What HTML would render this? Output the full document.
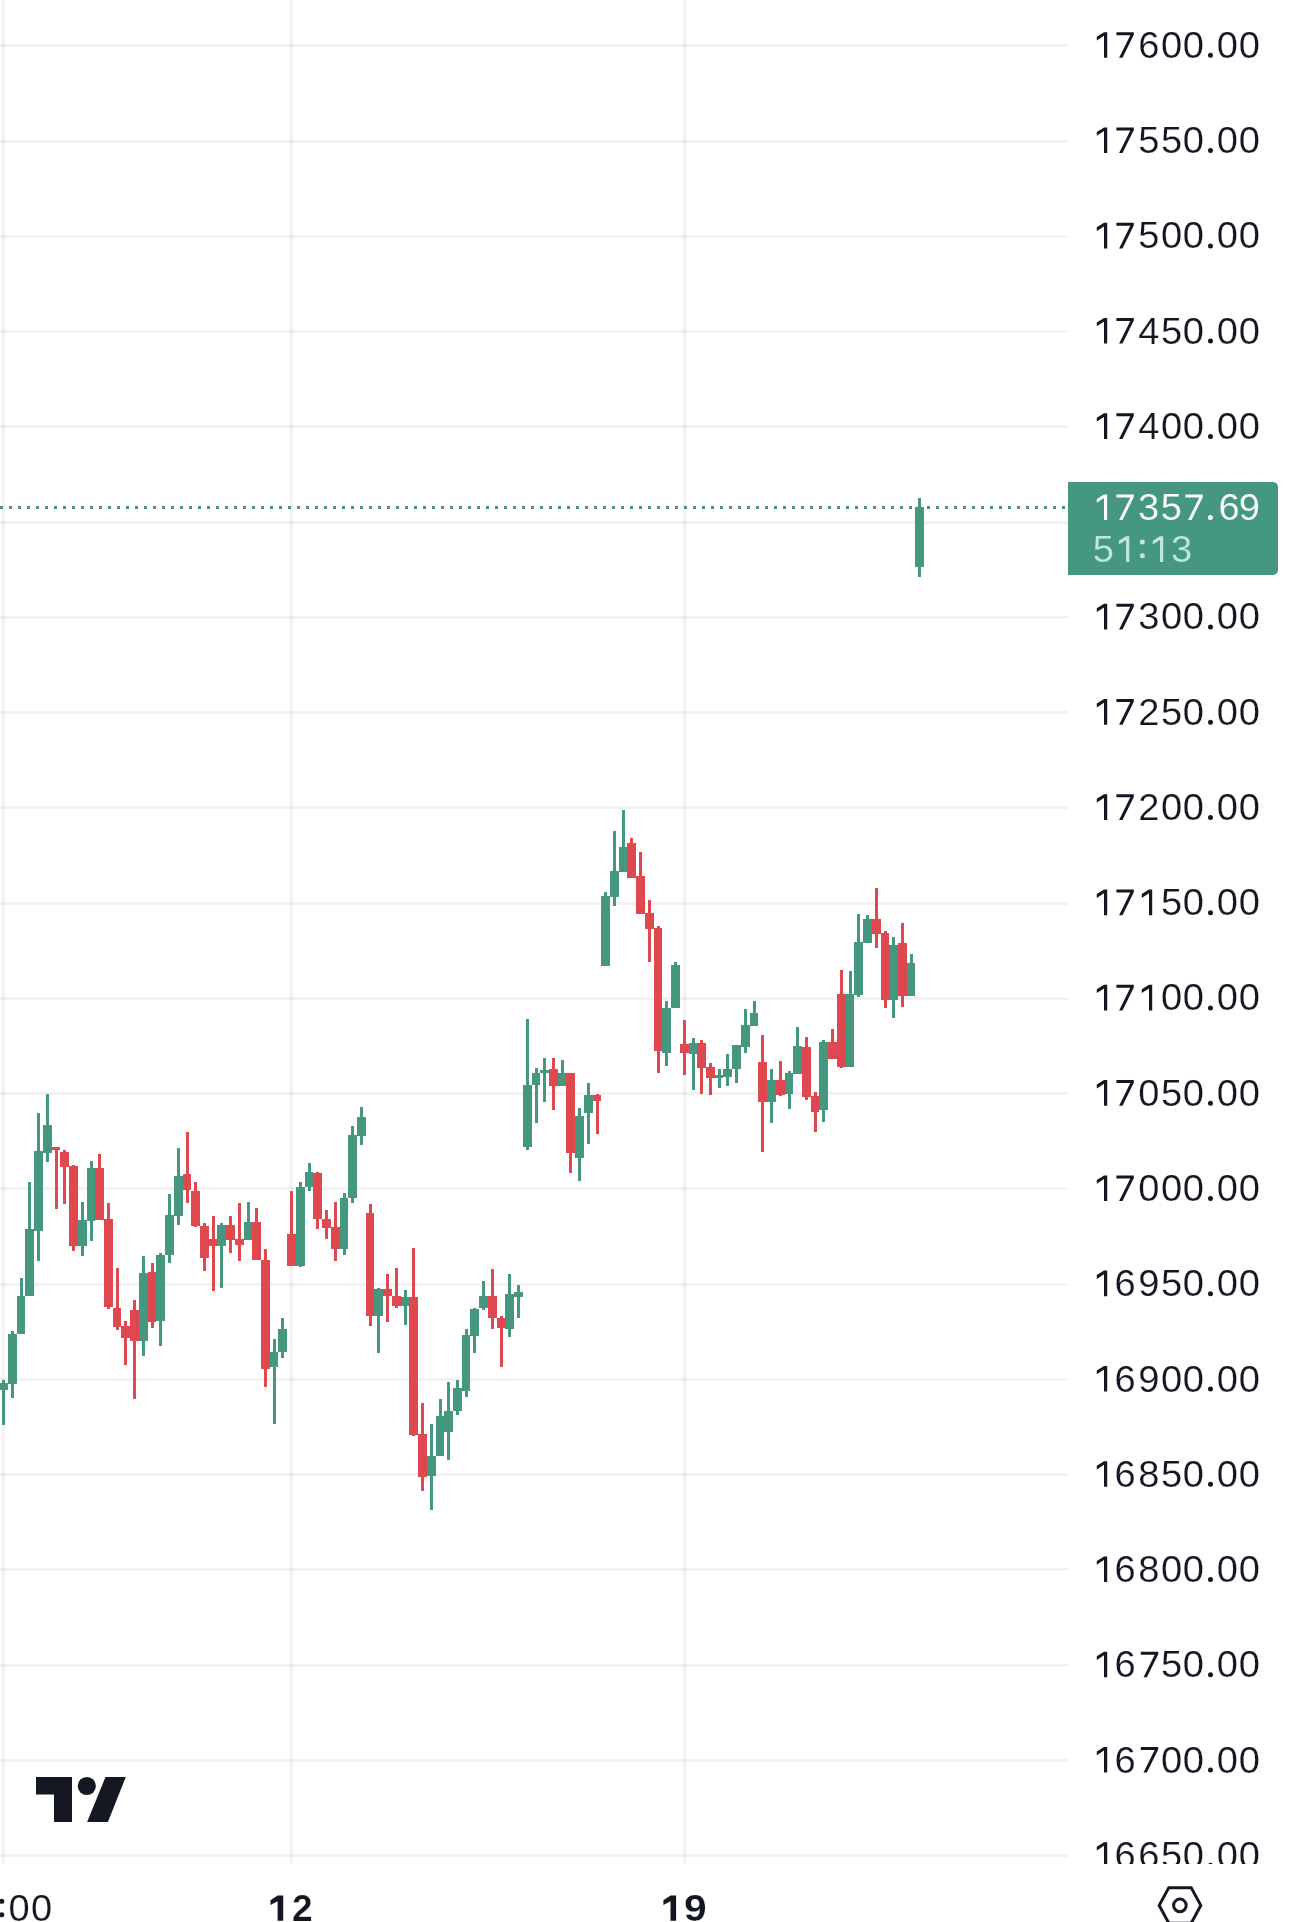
<!DOCTYPE html>
<html><head><meta charset="utf-8"><title>Chart</title>
<style>
html,body{margin:0;padding:0;background:#fff;}
body{width:1290px;height:1922px;position:relative;overflow:hidden;}
svg{position:absolute;left:0;top:0;}
text{font-family:"Liberation Sans",sans-serif;}
</style></head><body>
<svg width="1290" height="1922" viewBox="0 0 1290 1922">
<defs><clipPath id="ax"><rect x="1068" y="0" width="222" height="1864"/></clipPath></defs>
<g shape-rendering="crispEdges">
<g fill="rgba(0,0,0,0.05)"><rect x="0" y="44" width="1068" height="3"/><rect x="0" y="140" width="1068" height="3"/><rect x="0" y="235" width="1068" height="3"/><rect x="0" y="330" width="1068" height="3"/><rect x="0" y="425" width="1068" height="3"/><rect x="0" y="521" width="1068" height="3"/><rect x="0" y="616" width="1068" height="3"/><rect x="0" y="711" width="1068" height="3"/><rect x="0" y="806" width="1068" height="3"/><rect x="0" y="902" width="1068" height="3"/><rect x="0" y="997" width="1068" height="3"/><rect x="0" y="1092" width="1068" height="3"/><rect x="0" y="1187" width="1068" height="3"/><rect x="0" y="1283" width="1068" height="3"/><rect x="0" y="1378" width="1068" height="3"/><rect x="0" y="1473" width="1068" height="3"/><rect x="0" y="1568" width="1068" height="3"/><rect x="0" y="1664" width="1068" height="3"/><rect x="0" y="1759" width="1068" height="3"/><rect x="0" y="1854" width="1068" height="3"/><rect x="2" y="0" width="3" height="1864"/><rect x="290" y="0" width="3" height="1864"/><rect x="683" y="0" width="3" height="1864"/></g>
<path fill="#46977f" d="M0 506h3v3h-3zM9 506h3v3h-3zM18 506h3v3h-3zM27 506h3v3h-3zM36 506h3v3h-3zM45 506h3v3h-3zM54 506h3v3h-3zM63 506h3v3h-3zM72 506h3v3h-3zM81 506h3v3h-3zM90 506h3v3h-3zM99 506h3v3h-3zM108 506h3v3h-3zM117 506h3v3h-3zM126 506h3v3h-3zM135 506h3v3h-3zM144 506h3v3h-3zM153 506h3v3h-3zM162 506h3v3h-3zM171 506h3v3h-3zM180 506h3v3h-3zM189 506h3v3h-3zM198 506h3v3h-3zM207 506h3v3h-3zM216 506h3v3h-3zM225 506h3v3h-3zM234 506h3v3h-3zM243 506h3v3h-3zM252 506h3v3h-3zM261 506h3v3h-3zM270 506h3v3h-3zM279 506h3v3h-3zM288 506h3v3h-3zM297 506h3v3h-3zM306 506h3v3h-3zM315 506h3v3h-3zM324 506h3v3h-3zM333 506h3v3h-3zM342 506h3v3h-3zM351 506h3v3h-3zM360 506h3v3h-3zM369 506h3v3h-3zM378 506h3v3h-3zM387 506h3v3h-3zM396 506h3v3h-3zM405 506h3v3h-3zM414 506h3v3h-3zM423 506h3v3h-3zM432 506h3v3h-3zM441 506h3v3h-3zM450 506h3v3h-3zM459 506h3v3h-3zM468 506h3v3h-3zM477 506h3v3h-3zM486 506h3v3h-3zM495 506h3v3h-3zM504 506h3v3h-3zM513 506h3v3h-3zM522 506h3v3h-3zM531 506h3v3h-3zM540 506h3v3h-3zM549 506h3v3h-3zM558 506h3v3h-3zM567 506h3v3h-3zM576 506h3v3h-3zM585 506h3v3h-3zM594 506h3v3h-3zM603 506h3v3h-3zM612 506h3v3h-3zM621 506h3v3h-3zM630 506h3v3h-3zM639 506h3v3h-3zM648 506h3v3h-3zM657 506h3v3h-3zM666 506h3v3h-3zM675 506h3v3h-3zM684 506h3v3h-3zM693 506h3v3h-3zM702 506h3v3h-3zM711 506h3v3h-3zM720 506h3v3h-3zM729 506h3v3h-3zM738 506h3v3h-3zM747 506h3v3h-3zM756 506h3v3h-3zM765 506h3v3h-3zM774 506h3v3h-3zM783 506h3v3h-3zM792 506h3v3h-3zM801 506h3v3h-3zM810 506h3v3h-3zM819 506h3v3h-3zM828 506h3v3h-3zM837 506h3v3h-3zM846 506h3v3h-3zM855 506h3v3h-3zM864 506h3v3h-3zM873 506h3v3h-3zM882 506h3v3h-3zM891 506h3v3h-3zM900 506h3v3h-3zM909 506h3v3h-3zM918 506h3v3h-3zM927 506h3v3h-3zM936 506h3v3h-3zM945 506h3v3h-3zM954 506h3v3h-3zM963 506h3v3h-3zM972 506h3v3h-3zM981 506h3v3h-3zM990 506h3v3h-3zM999 506h3v3h-3zM1008 506h3v3h-3zM1017 506h3v3h-3zM1026 506h3v3h-3zM1035 506h3v3h-3zM1044 506h3v3h-3zM1053 506h3v3h-3zM1062 506h3v3h-3z"/>
<path fill="#46977f" d="M2 1380h3v45h-3zM11 1331h3v67h-3zM20 1278h3v56h-3zM28 1182h3v114h-3zM37 1113h3v148h-3zM46 1094h3v68h-3zM81 1202h3v54h-3zM90 1161h3v80h-3zM142 1256h3v100h-3zM159 1253h3v93h-3zM168 1194h3v69h-3zM177 1148h3v77h-3zM220 1223h3v65h-3zM247 1202h3v38h-3zM273 1339h3v85h-3zM281 1318h3v40h-3zM299 1182h3v85h-3zM308 1163h3v28h-3zM343 1193h3v62h-3zM351 1126h3v77h-3zM360 1107h3v38h-3zM377 1288h3v65h-3zM404 1290h3v35h-3zM430 1424h3v86h-3zM439 1399h3v57h-3zM447 1382h3v78h-3zM456 1380h3v35h-3zM465 1329h3v68h-3zM473 1308h3v45h-3zM482 1281h3v29h-3zM508 1274h3v63h-3zM517 1285h3v33h-3zM526 1019h3v131h-3zM535 1068h3v55h-3zM543 1058h3v44h-3zM561 1060h3v26h-3zM578 1108h3v73h-3zM587 1083h3v61h-3zM604 892h3v74h-3zM613 831h3v75h-3zM622 810h3v62h-3zM665 1001h3v65h-3zM674 962h3v46h-3zM692 1038h3v52h-3zM718 1069h3v19h-3zM726 1054h3v32h-3zM735 1045h3v38h-3zM744 1009h3v44h-3zM753 1001h3v25h-3zM770 1069h3v54h-3zM788 1071h3v38h-3zM796 1027h3v47h-3zM822 1040h3v82h-3zM849 971h3v96h-3zM857 914h3v83h-3zM866 915h3v28h-3zM892 937h3v81h-3zM910 954h3v42h-3zM918 498h3v79h-3z"/>
<path fill="#e0484f" d="M55 1147h3v62h-3zM63 1150h3v54h-3zM72 1165h3v86h-3zM98 1154h3v66h-3zM107 1203h3v106h-3zM116 1268h3v62h-3zM124 1321h3v44h-3zM133 1300h3v99h-3zM151 1263h3v65h-3zM186 1132h3v71h-3zM194 1182h3v45h-3zM203 1223h3v48h-3zM212 1216h3v75h-3zM229 1216h3v37h-3zM238 1203h3v58h-3zM255 1208h3v52h-3zM264 1249h3v138h-3zM290 1191h3v75h-3zM316 1172h3v57h-3zM325 1210h3v29h-3zM334 1202h3v59h-3zM369 1204h3v122h-3zM386 1274h3v48h-3zM395 1268h3v40h-3zM412 1248h3v188h-3zM421 1403h3v88h-3zM491 1269h3v60h-3zM500 1316h3v51h-3zM552 1058h3v52h-3zM569 1073h3v100h-3zM596 1094h3v40h-3zM630 838h3v40h-3zM639 852h3v62h-3zM648 900h3v62h-3zM657 926h3v147h-3zM683 1020h3v55h-3zM700 1040h3v54h-3zM709 1063h3v32h-3zM761 1035h3v117h-3zM779 1061h3v35h-3zM805 1037h3v63h-3zM814 1092h3v40h-3zM831 1029h3v30h-3zM840 970h3v98h-3zM875 888h3v60h-3zM884 931h3v77h-3zM901 923h3v84h-3z"/>
<path fill="#46977f" d="M-1 1383h9v7h-9zM8 1334h9v50h-9zM17 1296h8v38h-8zM25 1229h9v67h-9zM34 1151h9v80h-9zM43 1125h9v28h-9zM78 1220h9v26h-9zM87 1168h8v53h-8zM139 1273h9v68h-9zM156 1255h9v66h-9zM165 1215h9v40h-9zM174 1176h9v40h-9zM217 1225h9v21h-9zM244 1222h8v18h-8zM270 1352h8v15h-8zM278 1329h9v23h-9zM296 1187h9v79h-9zM305 1172h8v15h-8zM340 1198h8v51h-8zM348 1135h9v63h-9zM357 1117h9v19h-9zM374 1289h9v27h-9zM401 1297h8v9h-8zM427 1456h9v20h-9zM436 1416h8v40h-8zM444 1411h9v21h-9zM453 1388h9v23h-9zM462 1335h8v56h-8zM470 1309h9v27h-9zM479 1296h9v12h-9zM505 1294h9v35h-9zM514 1292h9v5h-9zM523 1085h9v62h-9zM532 1073h8v12h-8zM540 1070h9v3h-9zM558 1073h8v13h-8zM575 1116h9v42h-9zM584 1095h9v18h-9zM601 896h9v70h-9zM610 871h9v26h-9zM619 847h8v25h-8zM662 1008h9v45h-9zM671 965h9v43h-9zM689 1043h8v11h-8zM715 1075h8v3h-8zM723 1069h9v8h-9zM732 1045h9v24h-9zM741 1025h9v22h-9zM750 1013h8v13h-8zM767 1080h9v22h-9zM785 1073h8v21h-8zM793 1046h9v28h-9zM819 1042h9v68h-9zM846 994h8v73h-8zM854 942h9v53h-9zM863 919h9v24h-9zM889 945h9v55h-9zM907 963h8v33h-8zM915 507h9v60h-9z"/>
<path fill="#e0484f" d="M52 1147h8v3h-8zM60 1152h9v15h-9zM69 1166h9v80h-9zM95 1168h9v52h-9zM104 1219h9v88h-9zM113 1308h8v19h-8zM121 1326h9v12h-9zM130 1310h9v31h-9zM148 1272h8v50h-8zM183 1174h8v16h-8zM191 1191h9v35h-9zM200 1226h9v32h-9zM209 1239h8v7h-8zM226 1225h9v15h-9zM235 1239h9v6h-9zM252 1222h9v38h-9zM261 1260h9v109h-9zM287 1234h9v32h-9zM313 1173h9v46h-9zM322 1219h9v9h-9zM331 1227h9v22h-9zM366 1213h8v103h-8zM383 1289h9v7h-9zM392 1296h9v10h-9zM409 1297h9v138h-9zM418 1434h9v43h-9zM488 1296h9v22h-9zM497 1318h8v10h-8zM549 1069h9v17h-9zM566 1073h9v80h-9zM593 1095h8v6h-8zM627 843h9v35h-9zM636 876h9v38h-9zM645 913h9v16h-9zM654 928h8v123h-8zM680 1044h9v9h-9zM697 1043h9v25h-9zM706 1067h9v11h-9zM758 1062h9v40h-9zM776 1080h9v15h-9zM802 1047h9v50h-9zM811 1096h8v16h-8zM828 1042h9v17h-9zM837 994h9v73h-9zM872 919h9v15h-9zM881 933h8v67h-8zM898 943h9v53h-9z"/>
</g>
<g fill="#151722">
<path d="M36 1777H72V1822H54V1794.5H36Z"/>
<circle cx="86.8" cy="1786" r="9.1"/>
<path d="M105.5 1777H125.8L107.9 1822H87.1Z"/>
</g>
<g fill="none" stroke="#151722" stroke-width="3">
<path d="M1168.8 1887.65H1191.2L1200.8 1905.4L1191.2 1923.15H1168.8L1159.2 1905.4Z"/>
<circle cx="1179.9" cy="1905.4" r="6.3"/>
</g>
<g clip-path="url(#ax)" opacity="0.999">
<text transform="translate(0 57.8) scale(1.03 1)" font-size="37" font-weight="normal" fill="#131722" stroke="#fff" stroke-width="0.2" x="1105 1127.3 1148.4 1181.3 1202.7">60000</text>
<text transform="translate(0 153.1) scale(1.03 1)" font-size="37" font-weight="normal" fill="#131722" stroke="#fff" stroke-width="0.2" x="1105 1127.3 1148.4 1181.3 1202.7">55000</text>
<text transform="translate(0 248.4) scale(1.03 1)" font-size="37" font-weight="normal" fill="#131722" stroke="#fff" stroke-width="0.2" x="1105 1127.3 1148.4 1181.3 1202.7">50000</text>
<text transform="translate(0 343.6) scale(1.03 1)" font-size="37" font-weight="normal" fill="#131722" stroke="#fff" stroke-width="0.2" x="1105 1127.3 1148.4 1181.3 1202.7">45000</text>
<text transform="translate(0 438.9) scale(1.03 1)" font-size="37" font-weight="normal" fill="#131722" stroke="#fff" stroke-width="0.2" x="1105 1127.3 1148.4 1181.3 1202.7">40000</text>
<text transform="translate(0 629.4) scale(1.03 1)" font-size="37" font-weight="normal" fill="#131722" stroke="#fff" stroke-width="0.2" x="1105 1127.3 1148.4 1181.3 1202.7">30000</text>
<text transform="translate(0 724.7) scale(1.03 1)" font-size="37" font-weight="normal" fill="#131722" stroke="#fff" stroke-width="0.2" x="1105 1127.3 1148.4 1181.3 1202.7">25000</text>
<text transform="translate(0 819.9) scale(1.03 1)" font-size="37" font-weight="normal" fill="#131722" stroke="#fff" stroke-width="0.2" x="1105 1127.3 1148.4 1181.3 1202.7">20000</text>
<text transform="translate(0 915.2) scale(1.03 1)" font-size="37" font-weight="normal" fill="#131722" stroke="#fff" stroke-width="0.2" x="1127.3 1148.4 1181.3 1202.7">5000</text>
<text transform="translate(0 1010.4) scale(1.03 1)" font-size="37" font-weight="normal" fill="#131722" stroke="#fff" stroke-width="0.2" x="1127.3 1148.4 1181.3 1202.7">0000</text>
<text transform="translate(0 1105.7) scale(1.03 1)" font-size="37" font-weight="normal" fill="#131722" stroke="#fff" stroke-width="0.2" x="1105 1127.3 1148.4 1181.3 1202.7">05000</text>
<text transform="translate(0 1201) scale(1.03 1)" font-size="37" font-weight="normal" fill="#131722" stroke="#fff" stroke-width="0.2" x="1105 1127.3 1148.4 1181.3 1202.7">00000</text>
<text transform="translate(0 1296.2) scale(1.03 1)" font-size="37" font-weight="normal" fill="#131722" stroke="#fff" stroke-width="0.2" x="1082 1105 1127.3 1148.4 1181.3 1202.7">695000</text>
<text transform="translate(0 1391.5) scale(1.03 1)" font-size="37" font-weight="normal" fill="#131722" stroke="#fff" stroke-width="0.2" x="1082 1105 1127.3 1148.4 1181.3 1202.7">690000</text>
<text transform="translate(0 1486.8) scale(1.03 1)" font-size="37" font-weight="normal" fill="#131722" stroke="#fff" stroke-width="0.2" x="1082 1105 1127.3 1148.4 1181.3 1202.7">685000</text>
<text transform="translate(0 1582) scale(1.03 1)" font-size="37" font-weight="normal" fill="#131722" stroke="#fff" stroke-width="0.2" x="1082 1105 1127.3 1148.4 1181.3 1202.7">680000</text>
<text transform="translate(0 1677.3) scale(1.03 1)" font-size="37" font-weight="normal" fill="#131722" stroke="#fff" stroke-width="0.2" x="1082 1127.3 1148.4 1181.3 1202.7">65000</text>
<text transform="translate(0 1772.5) scale(1.03 1)" font-size="37" font-weight="normal" fill="#131722" stroke="#fff" stroke-width="0.2" x="1082 1127.3 1148.4 1181.3 1202.7">60000</text>
<text transform="translate(0 1867.8) scale(1.03 1)" font-size="37" font-weight="normal" fill="#131722" stroke="#fff" stroke-width="0.2" x="1082 1105 1127.3 1148.4 1181.3 1202.7">665000</text>
<path fill="#131722" d="M1104 32.2H1107.2V57.8H1104V35.8L1096.8 40.5V36.7ZM1116.4 32.2H1133.8V34.8L1122.5 57.8H1119.1L1130.3 35.2H1116.4ZM1208 55.3a2.5 2.5 0 1 0 5 0a2.5 2.5 0 1 0 -5 0ZM1104 127.5H1107.2V153.1H1104V131.1L1096.8 135.8V132ZM1116.4 127.5H1133.8V130.1L1122.5 153.1H1119.1L1130.3 130.5H1116.4ZM1208 150.6a2.5 2.5 0 1 0 5 0a2.5 2.5 0 1 0 -5 0ZM1104 222.8H1107.2V248.4H1104V226.4L1096.8 231.1V227.3ZM1116.4 222.8H1133.8V225.4L1122.5 248.4H1119.1L1130.3 225.8H1116.4ZM1208 245.9a2.5 2.5 0 1 0 5 0a2.5 2.5 0 1 0 -5 0ZM1104 318H1107.2V343.6H1104V321.6L1096.8 326.3V322.5ZM1116.4 318H1133.8V320.6L1122.5 343.6H1119.1L1130.3 321H1116.4ZM1208 341.1a2.5 2.5 0 1 0 5 0a2.5 2.5 0 1 0 -5 0ZM1104 413.3H1107.2V438.9H1104V416.9L1096.8 421.6V417.8ZM1116.4 413.3H1133.8V415.9L1122.5 438.9H1119.1L1130.3 416.3H1116.4ZM1208 436.4a2.5 2.5 0 1 0 5 0a2.5 2.5 0 1 0 -5 0ZM1104 603.8H1107.2V629.4H1104V607.4L1096.8 612.1V608.3ZM1116.4 603.8H1133.8V606.4L1122.5 629.4H1119.1L1130.3 606.8H1116.4ZM1208 626.9a2.5 2.5 0 1 0 5 0a2.5 2.5 0 1 0 -5 0ZM1104 699.1H1107.2V724.7H1104V702.7L1096.8 707.4V703.6ZM1116.4 699.1H1133.8V701.7L1122.5 724.7H1119.1L1130.3 702.1H1116.4ZM1208 722.2a2.5 2.5 0 1 0 5 0a2.5 2.5 0 1 0 -5 0ZM1104 794.3H1107.2V819.9H1104V797.9L1096.8 802.6V798.8ZM1116.4 794.3H1133.8V796.9L1122.5 819.9H1119.1L1130.3 797.3H1116.4ZM1208 817.4a2.5 2.5 0 1 0 5 0a2.5 2.5 0 1 0 -5 0ZM1104 889.6H1107.2V915.2H1104V893.2L1096.8 897.9V894.1ZM1116.4 889.6H1133.8V892.2L1122.5 915.2H1119.1L1130.3 892.6H1116.4ZM1149 889.6H1152.2V915.2H1149V893.2L1141.8 897.9V894.1ZM1208 912.7a2.5 2.5 0 1 0 5 0a2.5 2.5 0 1 0 -5 0ZM1104 984.8H1107.2V1010.4H1104V988.4L1096.8 993.1V989.3ZM1116.4 984.8H1133.8V987.4L1122.5 1010.4H1119.1L1130.3 987.8H1116.4ZM1149 984.8H1152.2V1010.4H1149V988.4L1141.8 993.1V989.3ZM1208 1007.9a2.5 2.5 0 1 0 5 0a2.5 2.5 0 1 0 -5 0ZM1104 1080.1H1107.2V1105.7H1104V1083.7L1096.8 1088.4V1084.6ZM1116.4 1080.1H1133.8V1082.7L1122.5 1105.7H1119.1L1130.3 1083.1H1116.4ZM1208 1103.2a2.5 2.5 0 1 0 5 0a2.5 2.5 0 1 0 -5 0ZM1104 1175.4H1107.2V1201H1104V1179L1096.8 1183.7V1179.9ZM1116.4 1175.4H1133.8V1178L1122.5 1201H1119.1L1130.3 1178.4H1116.4ZM1208 1198.5a2.5 2.5 0 1 0 5 0a2.5 2.5 0 1 0 -5 0ZM1104 1270.6H1107.2V1296.2H1104V1274.2L1096.8 1278.9V1275.1ZM1208 1293.7a2.5 2.5 0 1 0 5 0a2.5 2.5 0 1 0 -5 0ZM1104 1365.9H1107.2V1391.5H1104V1369.5L1096.8 1374.2V1370.4ZM1208 1389a2.5 2.5 0 1 0 5 0a2.5 2.5 0 1 0 -5 0ZM1104 1461.2H1107.2V1486.8H1104V1464.8L1096.8 1469.5V1465.7ZM1208 1484.2a2.5 2.5 0 1 0 5 0a2.5 2.5 0 1 0 -5 0ZM1104 1556.4H1107.2V1582H1104V1560L1096.8 1564.7V1560.9ZM1208 1579.5a2.5 2.5 0 1 0 5 0a2.5 2.5 0 1 0 -5 0ZM1104 1651.7H1107.2V1677.3H1104V1655.3L1096.8 1660V1656.2ZM1140.8 1651.7H1158.2V1654.3L1146.9 1677.3H1143.5L1154.7 1654.7H1140.8ZM1208 1674.8a2.5 2.5 0 1 0 5 0a2.5 2.5 0 1 0 -5 0ZM1104 1746.9H1107.2V1772.5H1104V1750.5L1096.8 1755.2V1751.4ZM1140.8 1746.9H1158.2V1749.5L1146.9 1772.5H1143.5L1154.7 1749.9H1140.8ZM1208 1770a2.5 2.5 0 1 0 5 0a2.5 2.5 0 1 0 -5 0ZM1104 1842.2H1107.2V1867.8H1104V1845.8L1096.8 1850.5V1846.7ZM1208 1865.3a2.5 2.5 0 1 0 5 0a2.5 2.5 0 1 0 -5 0Z"/>
</g>
<path fill="#46977f" d="M1068 482H1273a5 5 0 0 1 5 5V570a5 5 0 0 1 -5 5H1068Z"/>
<g opacity="0.999"><text transform="translate(0 520) scale(1.03 1)" font-size="37" font-weight="normal" fill="#fff" stroke="#46977f" stroke-width="0.2" x="1104.8 1127 1182.9 1202.7">3569</text><path fill="#fff" d="M1104 494.4H1107.2V520H1104V498L1096.8 502.7V498.9ZM1116.4 494.4H1133.8V497L1122.5 520H1119.1L1130.3 497.4H1116.4ZM1185.4 494.4H1202.8V497L1191.5 520H1188.1L1199.3 497.4H1185.4ZM1207.9 517.5a2.5 2.5 0 1 0 5 0a2.5 2.5 0 1 0 -5 0Z"/>
<text transform="translate(0 561.9) scale(1.03 1)" font-size="37" font-weight="normal" fill="#c0e8dc" stroke="#46977f" stroke-width="0.2" x="1060.9 1136.8">53</text><path fill="#c0e8dc" d="M1126.1 536.3H1129.3V561.9H1126.1V539.9L1118.9 544.6V540.8ZM1139.8 542.1a2.5 2.5 0 1 0 5 0a2.5 2.5 0 1 0 -5 0ZM1139.8 555.7a2.5 2.5 0 1 0 5 0a2.5 2.5 0 1 0 -5 0ZM1160 536.3H1163.2V561.9H1160V539.9L1152.8 544.6V540.8Z"/>
<text transform="translate(0 1921) scale(1.03 1)" font-size="37" font-weight="normal" fill="#131722" stroke="#fff" stroke-width="0.2" x="8.2 30.1">00</text><text transform="translate(0 1920.7) scale(1.0 1)" font-size="37" font-weight="bold" fill="#131722" stroke="#fff" stroke-width="0.2" x="291.9">2</text><text transform="translate(0 1920.7) scale(1.1 1)" font-size="37" font-weight="bold" fill="#131722" stroke="#fff" stroke-width="0.2" x="621.9">9</text>
<path fill="#131722" d="M277.6 1895.4H283.2V1920.7H277.6V1901.2L270.5 1905V1900.3ZM670.5 1895.4H676.1V1920.7H670.5V1901.2L663.4 1905V1900.3ZM-0.7 1901.2a2.5 2.5 0 1 0 5 0a2.5 2.5 0 1 0 -5 0ZM-0.7 1914.8a2.5 2.5 0 1 0 5 0a2.5 2.5 0 1 0 -5 0Z"/></g>
</svg>
</body></html>
